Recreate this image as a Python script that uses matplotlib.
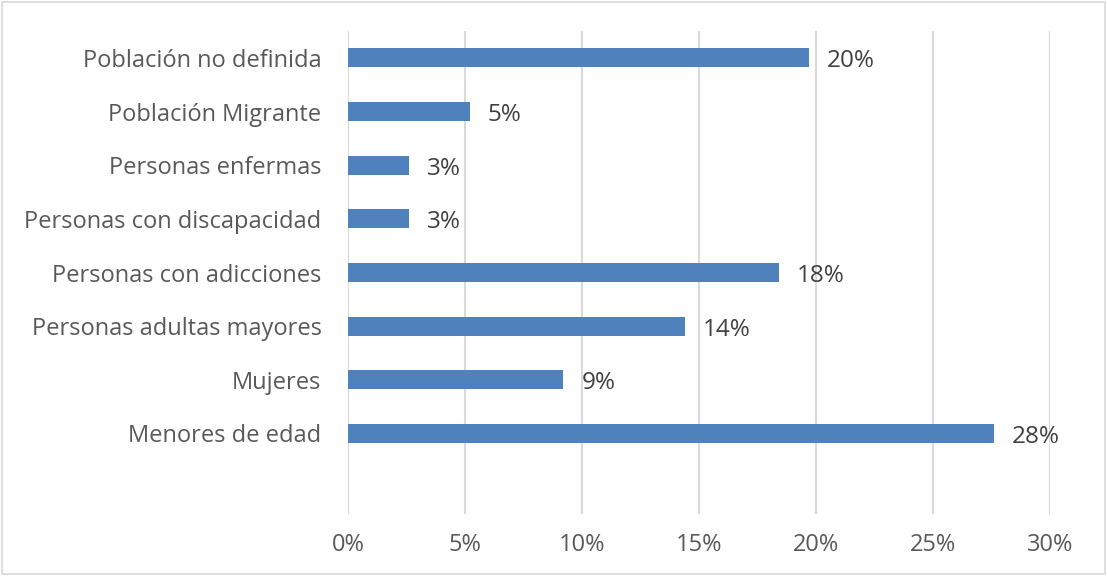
import matplotlib
matplotlib.use("Agg")
import matplotlib.pyplot as plt
from matplotlib.patches import Rectangle

categories = ["Menores de edad", "Mujeres", "Personas adultas mayores",
              "Personas con adicciones", "Personas con discapacidad",
              "Personas enfermas", "Población Migrante", "Población no definida"]
values = [27.6, 9.2, 14.4, 18.4, 2.6, 2.6, 5.2, 19.7]
labels = ["28%", "9%", "14%", "18%", "3%", "3%", "5%", "20%"]
xticks = [0, 5, 10, 15, 20, 25, 30]

plt.rcParams['font.family'] = ['Open Sans', 'DejaVu Sans']
text_color = "#595959"

fig = plt.figure(figsize=(11.07, 5.76), dpi=100)
ax = fig.add_axes([348/1107, (576-514)/576, (1050-348)/1107, (514-31)/576])

pos = list(range(1, len(categories) + 1))
ax.barh(pos, values, height=0.36, color="#4F81BD", zorder=3)
for p, v, l in zip(pos, values, labels):
    ax.annotate(l, (v, p), xytext=(13, -2.5), textcoords="offset points",
                va="center", ha="left", fontsize=17.5, color="#404040")

ax.set_xlim(0, 30)
ax.set_ylim(-0.5, len(categories) + 0.5)
ax.set_xticks(xticks)
ax.set_xticklabels([f"{t}%" for t in xticks])
ax.set_yticks(pos)
ax.set_yticklabels(categories)
ax.tick_params(axis='both', length=0, labelsize=17, colors=text_color)
ax.tick_params(axis='x', pad=14)
ax.tick_params(axis='y', pad=19)
ax.grid(axis='x', color="#D9D9D9", linewidth=1.5, zorder=0)
for s in ax.spines.values():
    s.set_visible(False)

fig.patches.append(Rectangle((0.002, 0.003), 0.996, 0.994, transform=fig.transFigure,
                             fill=False, edgecolor="#D9D9D9", linewidth=1.2))
fig.savefig("out.png", dpi=100)
